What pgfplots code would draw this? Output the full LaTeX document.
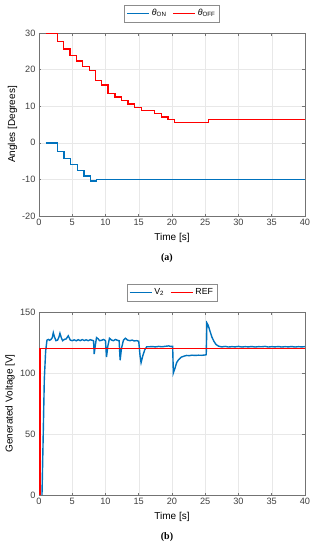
\documentclass[border=0pt]{standalone}
\usepackage{fontspec}
\setmainfont{Liberation Sans}
\newfontfamily\capfont{Liberation Serif}
\usepackage{pgfplots}
\pgfplotsset{compat=1.18}
\definecolor{mblue}{rgb}{0,0.447,0.741}
\definecolor{mred}{rgb}{1,0,0}
\pgfplotsset{mystyle/.style={
  scale only axis, width=266pt, height=183pt,
  xmin=0, xmax=40, xtick={0,5,...,40},
  grid=major, major grid style={gray!18, line width=0.4pt},
  axis line style={black!55, line width=0.5pt},
  tick style={black!55, line width=0.5pt},
  tick align=inside, major tick length=2.5pt,
  tick label style={font=\fontsize{9.2}{10}\selectfont, text=black!75},
  label style={font=\fontsize{10}{11}\selectfont, text=black!80},
  /pgf/number format/assume math mode=true,
  xlabel={Time [s]},
  every axis x label/.style={at={(axis description cs:0.5,-0.12)}, anchor=center},
  legend columns=-1,
  legend style={at={(0.5,1)}, yshift=11pt, anchor=south, draw=black!45, line width=0.5pt,
    font=\fontsize{8.8}{9}\selectfont, inner xsep=2pt, inner ysep=2.5pt,
    /tikz/every even column/.append style={column sep=4pt}},
  legend image code/.code={\draw[#1] (0pt,0pt) -- (22pt,0pt);},
}}
\begin{document}
\begin{tikzpicture}
\useasboundingbox (-39pt,-334pt) rectangle (277pt,216pt);
\begin{axis}[mystyle,
  at={(0pt,0pt)},
  ymin=-20, ymax=30, ytick={-20,-10,0,10,20,30},
  ylabel={Angles [Degrees]},
  every axis y label/.style={at={(axis description cs:-0.0996,0.5)}, rotate=90, anchor=center},
]
\addplot[color=mblue, line width=1.4pt] coordinates {
(1.0,0)(2.8,0)(2.8,-2.3)(3.76,-2.3)(3.76,-4.3)(4.76,-4.3)(4.76,-6.0)(5.76,-6.0)(5.76,-7.6)(6.76,-7.6)(6.76,-9.1)(7.76,-9.1)(7.76,-10.45)(8.67,-10.45)(8.67,-10)(40,-10)};
\addlegendentry{\textit{θ}\textsubscript{ON}}
\addplot[color=mred, line width=1.4pt] coordinates {
(1.0,30)(2.8,30)(2.8,27.7)(3.66,27.7)(3.66,25.6)(4.66,25.6)(4.66,23.9)(5.66,23.9)(5.66,22.4)(6.57,22.4)(6.57,20.9)(7.57,20.9)(7.57,19.7)(8.5,19.7)(8.5,17.1)(9.4,17.1)(9.4,15.8)(10.4,15.8)(10.4,13.5)(11.4,13.5)(11.4,12.5)(12.4,12.5)(12.4,11.6)(13.4,11.6)(13.4,10.6)(14.4,10.6)(14.4,9.7)(15.4,9.7)(15.4,8.9)(17.4,8.9)(17.4,8.0)(18.4,8.0)(18.4,7.1)(19.4,7.1)(19.4,6.3)(20.35,6.3)(20.35,5.5)(25.5,5.5)(25.5,6.3)(40,6.3)};
\addlegendentry{\textit{θ}\textsubscript{OFF}}
\end{axis}
\node[font=\capfont\bfseries\fontsize{10}{11}\selectfont] at (128pt,-42pt) {(a)};
\begin{axis}[mystyle,
  at={(0pt,-279pt)},
  ymin=0, ymax=150, ytick={0,50,100,150},
  ylabel={Generated Voltage [V]},
  every axis y label/.style={at={(axis description cs:-0.109,0.5)}, rotate=90, anchor=center},
]
\addplot[color=mblue, line width=1.4pt] coordinates {
(0.45,0)(0.6,40)(0.8,95)(1.0,118)(1.2,127)(1.4,127.5)(1.6,126.8)(1.8,127.5)(2.0,129)(2.15,133)(2.3,130)(2.55,126.5)(2.8,127)(3.0,129.5)(3.15,132.5)(3.35,129)(3.55,126.5)(3.8,127.5)(4.1,128)(4.4,130.5)(4.7,127)(5.0,126.5)(5.3,127.2)(5.6,126.4)(5.9,127.3)(6.2,126.5)(6.5,127.4)(6.8,126.6)(7.1,127.2)(7.4,126.5)(7.7,127.3)(8.0,126.8)(8.2,126.5)(8.3,115.5)(8.45,122)(8.65,129)(8.9,128)(9.1,126.5)(9.4,126.8)(9.7,127.5)(10.0,126.5)(10.15,113)(10.35,122)(10.6,128.5)(10.9,127)(11.2,126.5)(11.5,127.5)(11.8,126.8)(12.05,126.5)(12.2,110.5)(12.4,120)(12.7,127)(13.0,128.5)(13.3,127)(13.7,126.5)(14.0,127)(14.3,126.3)(14.7,126.5)(15.0,126)(15.2,114)(15.35,108.5)(15.6,114)(15.9,119)(16.2,121.5)(16.6,121.5)(17,121.7)(17.5,121.4)(18,121.8)(18.5,121.5)(19,121.9)(19.5,122.2)(19.8,121.8)(20.1,121.9)(20.2,100)(20.45,104)(20.7,108.5)(21.0,111)(21.4,113)(21.8,113.8)(22.2,114.4)(22.6,114.2)(23,114.6)(23.5,114.4)(24,114.6)(24.5,114.5)(25.0,114.8)(25.15,115)(25.25,141)(25.45,139)(25.7,134.5)(26.0,129.5)(26.3,126)(26.6,123.5)(27.0,122)(27.5,121.4)(28,121.8)(28.5,121.3)(29,121.6)(29.5,121.4)(30,121.8)(30.5,121.3)(31,121.6)(31.5,121.4)(32,121.7)(32.5,121.3)(33,121.6)(33.5,121.5)(34,121.8)(34.5,121.3)(35,121.6)(35.5,121.4)(36,121.7)(36.5,121.3)(37,121.6)(37.5,121.4)(38,121.7)(38.5,121.3)(39,121.6)(39.5,121.4)(40,121.6)};
\addlegendentry{V\textsubscript{2}}
\addplot[color=mred, line width=1.4pt] coordinates {(0.15,0)(0.15,120)(40,120)};
\addlegendentry{REF}
\end{axis}
\node[font=\capfont\bfseries\fontsize{10}{11}\selectfont] at (128pt,-321pt) {(b)};
\end{tikzpicture}
\end{document}
